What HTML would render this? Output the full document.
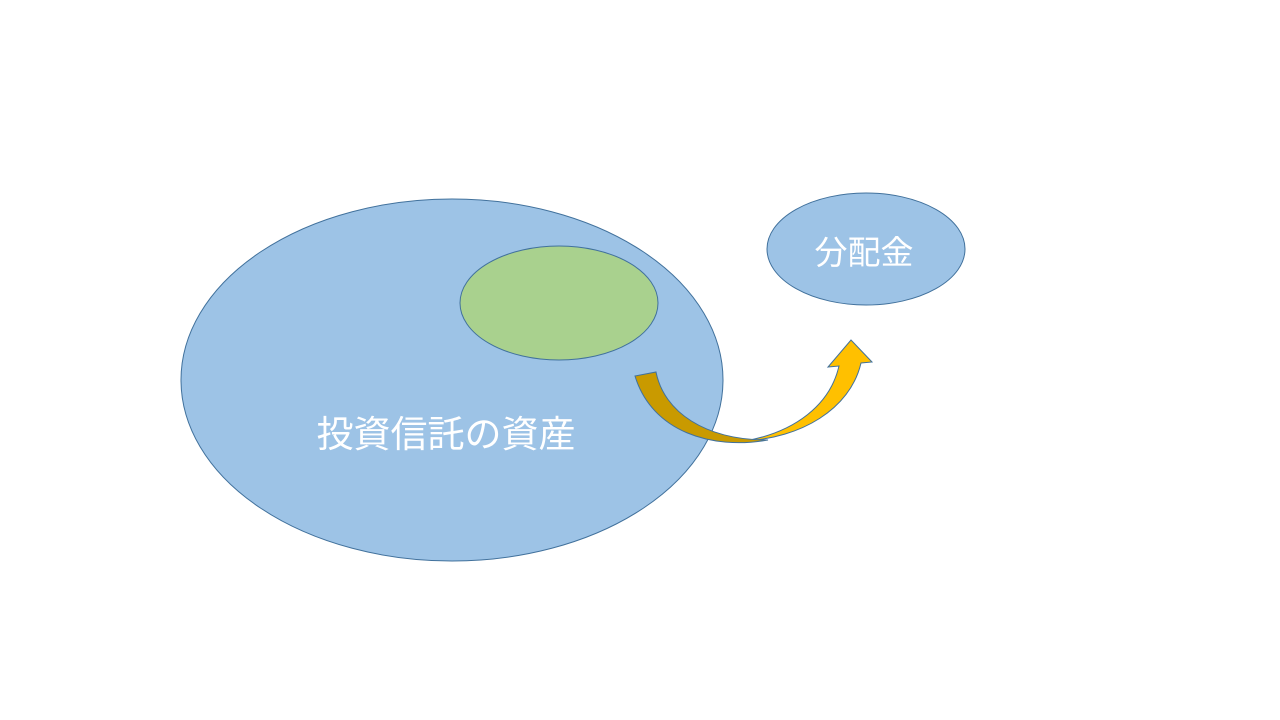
<!DOCTYPE html>
<html><head><meta charset="utf-8"><style>
html,body{margin:0;padding:0;background:#fff;}
svg{display:block}
text{font-family:"Liberation Sans","Noto Sans CJK JP",sans-serif;fill:#fff;}
</style></head><body>
<svg width="1280" height="720" viewBox="0 0 1280 720" xmlns="http://www.w3.org/2000/svg">
<ellipse cx="452" cy="380" rx="271" ry="181" fill="#9DC3E6" stroke="#41719C" stroke-width="1"/>
<ellipse cx="559" cy="303" rx="99" ry="57" fill="#A9D18E" stroke="#41719C" stroke-width="1"/>
<ellipse cx="866" cy="249" rx="99" ry="56" fill="#9DC3E6" stroke="#41719C" stroke-width="1"/>
<text x="446" y="447" font-size="37" text-anchor="middle">投資信託の資産</text>
<text x="864" y="264" font-size="33" text-anchor="middle">分配金</text>
<path d="M745,441 C800,438 850,410 861,363 L872,362 L851,340 L828,367 L839,366 C830,405 795,432 745,441 Z" fill="#FFC000" stroke="#41719C" stroke-width="1"/>
<path d="M635,376 L656,372 C664,412 705,440 768,440 C712,450 652,432 635,376 Z" fill="#C99A00" stroke="#41719C" stroke-width="1"/>
</svg>
</body></html>
